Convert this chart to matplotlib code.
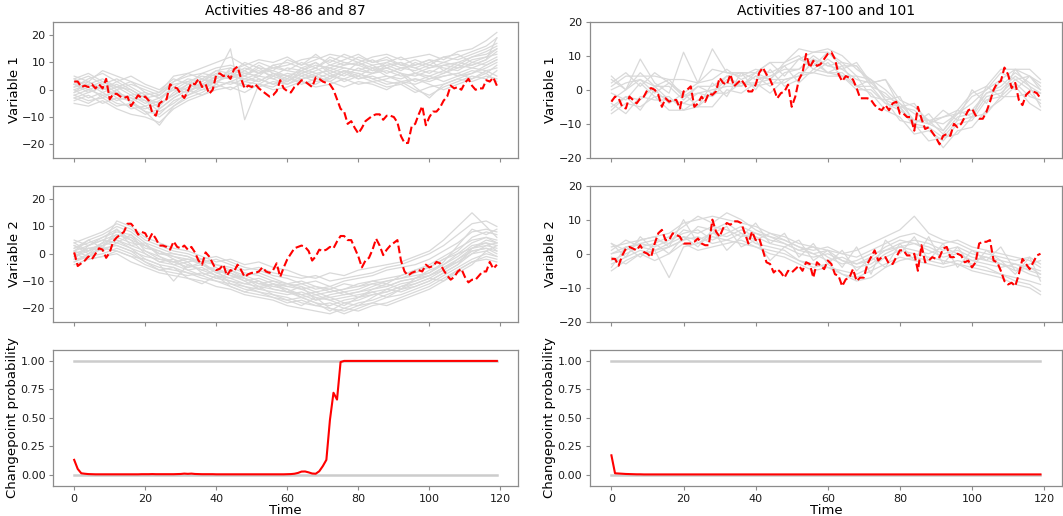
import numpy as np
import matplotlib
matplotlib.use("Agg")
import matplotlib.pyplot as plt

# time axis of the observed activities
time = np.arange(120)
# coarser time grid used for the reference activities (grey)
t_ref = list(range(0, 117, 4)) + [119]

# ---- activities 48-86 (reference set, left column) ----
ref_left_v1 = [
    [3, 5, 2, 4, 1, -2, -1, 3, 5, 6, 8, 9, 7, 10, 8, 9, 11, 12, 10, 13, 11, 9, 10, 8, 9, 11, 10, 12, 14, 16, 19],
    [-2, -4, -3, -6, -5, -8, -9, -4, -2, 0, 1, 3, 2, 1, 3, 2, 4, 5, 3, 6, 4, 5, 3, 2, 4, 3, 5, 6, 4, 7, 5],
    [1, 2, 4, 1, 0, -3, -5, -2, 1, 2, 5, 4, 6, 7, 5, 8, 7, 9, 8, 10, 9, 7, 8, 6, 5, 7, 6, 8, 9, 11, 14],
    [-4, -2, -5, -3, -7, -6, -10, -6, -3, -1, 2, 0, 3, 2, 1, 4, 3, 2, 5, 4, 6, 4, 2, 3, 0, -2, 1, 3, 5, 4, 7],
    [4, 1, 3, 0, 2, 0, -2, 2, 3, 5, 4, 7, 9, 6, 8, 7, 6, 8, 11, 9, 12, 10, 11, 9, 8, 10, 12, 11, 13, 15, 17],
    [0, -3, -1, -4, -2, -5, -3, 0, -1, 3, 6, 5, 4, 3, 6, 4, 8, 6, 7, 5, 8, 6, 7, 5, 6, 4, 6, 9, 8, 10, 12],
    [-1, 3, 0, 2, -1, -4, -6, -1, 2, 4, 3, 6, 5, 8, 4, 6, 5, 7, 9, 8, 7, 9, 6, 8, 7, 9, 8, 7, 10, 9, 11],
    [2, 0, -2, -1, -4, -2, -7, -3, 0, 1, 3, 2, 4, 6, 7, 5, 4, 6, 4, 7, 5, 8, 5, 4, 6, 5, 3, 5, 7, 6, 9],
    [-3, -1, 1, -2, -3, -6, -4, 1, 4, 3, 7, 8, 6, 5, 9, 10, 8, 10, 7, 9, 10, 8, 9, 7, 10, 8, 9, 10, 12, 13, 15],
    [1, 4, 6, 3, 5, 2, 0, 4, 2, 6, 5, 4, 7, 4, 2, 3, 6, 4, 6, 3, 5, 3, 4, 6, 3, 5, 7, 5, 6, 8, 10],
    [-5, -6, -4, -7, -9, -10, -12, -7, -4, -2, 0, 1, -1, 2, 0, 1, 3, 1, 2, 4, 2, 3, 1, 2, -1, 1, 2, 4, 3, 5, 4],
    [5, 3, 7, 5, 3, 1, -1, 5, 6, 8, 10, 12, 9, 11, 10, 12, 9, 11, 13, 12, 10, 12, 13, 11, 12, 13, 11, 14, 15, 18, 21],
    [0, 2, -1, 1, -2, -1, -3, 0, 3, 1, 4, 6, 3, 5, 4, 2, 5, 3, 4, 7, 6, 4, 5, 3, 2, 4, 5, 6, 8, 7, 8],
    [-2, 0, 2, -1, -3, -4, -8, -5, -1, 2, 1, 3, 5, 3, 6, 5, 7, 10, 6, 8, 7, 6, 9, 10, 8, 6, 9, 8, 11, 12, 13],
    [2, -1, 1, -3, -4, -8, -13, -6, -2, 1, 5, 15, -11, 2, 5, 3, 6, 8, 5, 7, 4, 6, 8, 6, 1, -3, 2, 4, 6, 9, 11],
    [-1, 1, -3, 0, -5, -7, -5, -2, 2, 0, 3, 5, 8, 6, 9, 7, 10, 8, 12, 10, 9, 11, 8, 10, 6, 8, 10, 9, 12, 14, 16],
    [4, 6, 3, 1, 3, -1, -3, 1, 0, 4, 7, 6, 10, 8, 7, 11, 9, 13, 9, 11, 13, 10, 12, 9, 11, 9, 12, 13, 10, 12, 15],
    [-3, -5, -2, -5, -6, -9, -7, -3, 0, -2, 1, 3, 1, 4, 2, 5, 2, 4, 3, 1, 3, 2, 0, 3, 4, 2, 0, 2, 4, 6, 3],
    [2, 3, 0, 3, 0, -3, -2, 3, 6, 4, 2, 8, 5, 9, 6, 3, 7, 5, 8, 6, 10, 7, 10, 12, 9, 11, 7, 10, 9, 11, 19],
]
ref_left_v2 = [
    [2, 4, 6, 9, 5, 3, 0, -1, -3, -2, -4, -6, -8, -7, -9, -11, -10, -12, -13, -11, -12, -10, -9, -8, -6, -4, -1, 2, 5, 6, 4],
    [-2, -1, 0, 2, 0, -3, -5, -6, -7, -9, -10, -12, -14, -15, -16, -18, -17, -19, -20, -21, -19, -18, -16, -15, -13, -11, -8, -5, -2, 0, -1],
    [4, 6, 8, 11, 9, 5, 3, 1, 0, -2, -1, -3, -5, -6, -8, -9, -11, -10, -12, -10, -9, -8, -6, -5, -4, -2, 1, 4, 8, 9, 8],
    [0, 2, 1, 4, 2, 0, -3, -4, -6, -5, -8, -9, -11, -10, -13, -14, -15, -17, -16, -18, -17, -15, -14, -12, -11, -9, -6, -2, 1, 2, 0],
    [-3, -1, 3, 5, 3, 1, -2, -3, -2, -4, -6, -7, -9, -11, -12, -13, -15, -14, -16, -15, -14, -13, -12, -10, -9, -6, -4, -1, 3, 4, 3],
    [1, 3, 5, 7, 6, 2, 1, -2, -4, -6, -5, -8, -10, -9, -11, -12, -13, -12, -14, -13, -11, -10, -11, -8, -6, -5, -2, 0, 4, 6, 5],
    [3, 0, 2, 1, -1, -2, -4, -5, -7, -8, -10, -11, -13, -14, -15, -16, -18, -19, -18, -20, -18, -17, -15, -13, -12, -10, -7, -4, 0, 1, -1],
    [-1, 1, 4, 6, 4, 3, 1, -1, -2, -3, -4, -5, -7, -8, -10, -11, -12, -14, -13, -15, -14, -12, -10, -9, -7, -5, -2, 1, 6, 8, 7],
    [0, -2, -1, 0, -3, -5, -7, -8, -9, -10, -12, -13, -15, -16, -17, -19, -20, -21, -22, -20, -21, -19, -18, -16, -14, -12, -9, -6, -3, -2, -3],
    [2, 5, 7, 10, 8, 4, 2, 0, -1, -3, -2, -4, -6, -5, -7, -8, -9, -8, -10, -9, -8, -7, -5, -4, -2, 0, 3, 7, 11, 12, 10],
    [-4, -2, -1, 1, -1, -4, -6, -7, -8, -7, -9, -10, -12, -13, -14, -15, -14, -16, -17, -16, -15, -14, -13, -11, -10, -8, -5, -3, 0, 3, 2],
    [5, 3, 6, 8, 7, 3, 0, 0, -1, -4, -7, -9, -8, -10, -12, -11, -13, -15, -14, -13, -12, -11, -10, -9, -8, -7, -4, 0, 2, 3, 4],
    [1, -1, 2, 3, 1, -1, -2, -3, -5, -4, -6, -8, -9, -11, -10, -12, -11, -13, -12, -14, -13, -11, -12, -10, -9, -8, -5, -2, 2, 4, 1],
    [-1, 2, 3, 5, 2, -2, -4, -10, -4, -6, -8, -10, -11, -12, -13, -14, -16, -18, -19, -17, -16, -15, -14, -12, -10, -8, -6, -3, 1, 2, 1],
    [3, 1, 4, 12, 10, 6, 4, 2, 1, -1, -3, -2, -4, -3, -5, -6, -8, -9, -7, -8, -6, -5, -4, -3, -1, 1, 5, 10, 15, 10, 6],
    [-2, 3, 5, 4, 7, 1, -1, -3, -5, -3, -7, -6, -9, -12, -11, -13, -16, -15, -17, -19, -16, -14, -16, -13, -11, -9, -10, -6, -3, -1, -2],
    [4, 1, 3, 7, 5, 0, -3, -2, -6, -8, -6, -11, -12, -14, -16, -17, -19, -16, -20, -22, -20, -18, -19, -17, -15, -13, -10, -7, -4, 1, 3],
    [1, 5, 2, 9, 3, 4, -1, -4, -3, -7, -9, -7, -10, -13, -11, -14, -12, -17, -15, -14, -16, -13, -11, -13, -9, -7, -3, 3, 9, 7, 9],
    [-3, 0, 4, 3, 1, -3, -6, -5, -9, -11, -8, -12, -14, -12, -15, -17, -16, -18, -21, -18, -19, -16, -13, -14, -12, -10, -7, -4, 2, 5, 4],
]

# ---- activity 87 (observed, left column) ----
obs_left_v1 = [3, 3, 1, 1.5, 1, 2, 0.5, 2, 0.5, 4, -3.5, -1.5, -1.5, -2.5, -3, -2.5, -6, -4, -2, -3,
               -2.5, -4, -8.5, -9.5, -5, -4, -3.5, 2, 1, 0.5, -1.5, -3, -0.5, 2.5, 2, 4, 1, 2, -1.5, 0,
               5.5, 6, 5, 5.5, 4, 7.5, 8.5, 4, 0.5, 1.5, 1, 2, 0.5, -0.5, -1.5, -2.5, -2, -0.5, 3.5, 0.5,
               -0.5, -1, 1, 2, 3.5, 3, 2, 1, 4.5, 4, 3, 2.5, 2, 0, -3.5, -7, -8, -12.5, -11.5, -14,
               -16, -14, -11.5, -10.5, -9.5, -9, -9, -11, -9.5, -9.5, -10, -12, -17, -19.5, -19.5, -13.5, -12.5, -9, -6, -13,
               -10, -8, -8, -6.5, -4, -2.5, 1.5, 0.5, 1, 0, 2.5, 4, 1.5, 0, 0.5, 0.5, 3.5, 3, 4.5, 1.5]
obs_left_v2 = [0.5, -4.5, -3.5, -2.5, -1, -2, 0, 2, 1.5, -1.5, 0.5, 4.5, 6, 7, 8, 11, 11, 9.5, 7, 8,
               7.5, 5, 7.5, 5.5, 3, 3, 2.5, 1.5, 4.5, 2.5, 2, 3, 1.5, 2.5, 0.5, -2.5, -4, 0.5, -1, -3.5,
               -6, -5.5, -4, -8, -6, -6.5, -4, -6, -8.5, -7.5, -7, -7, -6.5, -5, -6.5, -7, -6, -3.5, -8.5, -5,
               -2, 0, 2, 2.5, 3, 2.5, 1, -2.5, -1, 1.5, 1, 1.5, 2.5, 2, 4.5, 6.5, 6.5, 5, 5, 2,
               -1, -5, -2.5, -1.5, 1.5, 5.5, 3, -0.5, 1.5, 3, 4, 5, -2.5, -6.5, -8, -7, -6.5, -6, -6.5, -4,
               -5, -4.5, -3, -3.5, -6, -8, -9.5, -8.5, -6.5, -5.5, -8.5, -10.5, -9.5, -9.5, -8, -6.5, -6.5, -3, -5.5, -4]
prob_left = [0.13, 0.05, 0.012, 0.008, 0.005, 0.004, 0.003, 0.003, 0.003, 0.003,
             0.003, 0.003, 0.003, 0.003, 0.003, 0.003, 0.003, 0.003, 0.003, 0.004,
             0.004, 0.004, 0.005, 0.004, 0.004, 0.004, 0.004, 0.004, 0.004, 0.005,
             0.006, 0.009, 0.007, 0.009, 0.006, 0.005, 0.004, 0.004, 0.004, 0.004,
             0.003, 0.003, 0.003, 0.003, 0.003, 0.003, 0.003, 0.003, 0.003, 0.003,
             0.003, 0.003, 0.003, 0.003, 0.003, 0.003, 0.003, 0.003, 0.003, 0.003,
             0.004, 0.005, 0.008, 0.015, 0.027, 0.028, 0.02, 0.01, 0.008, 0.03,
             0.075, 0.13, 0.48, 0.72, 0.66, 0.99, 1.0, 1.0, 1.0, 1.0,
             1.0, 1.0, 1.0, 1.0, 1.0, 1.0, 1.0, 1.0, 1.0, 1.0,
             1.0, 1.0, 1.0, 1.0, 1.0, 1.0, 1.0, 1.0, 1.0, 1.0,
             1.0, 1.0, 1.0, 1.0, 1.0, 1.0, 1.0, 1.0, 1.0, 1.0,
             1.0, 1.0, 1.0, 1.0, 1.0, 1.0, 1.0, 1.0, 1.0, 1.0]

# ---- activities 87-100 (reference set, right column) ----
ref_right_v1 = [
    [2, 5, 1, 5, 2, -1, 2, 3, 6, 3, 5, 8, 4, 9, 7, 11, 8, 7, 2, 3, -3, -5, -9, -8, -7, -2, 0, 5, 3, 4, 1],
    [-5, -2, -3, 1, -3, -4, -1, -2, 2, 1, 4, 1, 5, 6, 9, 7, 8, 4, 3, -3, -5, -10, -11, -14, -9, -8, -2, -1, 3, 0, -1],
    [0, 2, 3, 1, 1, -3, 1, 1, 4, 5, 3, 4, 6, 6, 10, 7, 6, 3, 2, -2, -4, -9, -9, -13, -8, -7, -1, 1, 5, 2, 0],
    [-7, -4, -5, -2, -6, -6, -5, -1, -1, 2, 1, 2, 2, 5, 5, 8, 4, 4, -2, -3, -9, -10, -15, -14, -13, -8, -7, -2, -2, -1, -4],
    [-3, 0, 9, 2, -1, 11, 2, 12, 5, 4, 6, 5, 7, 9, 11, 12, 10, 6, 3, 0, -4, -7, -9, -10, -7, -4, 0, 3, 6, 4, 2],
    [-1, -3, 2, -2, -2, -6, -3, -1, 3, 2, 2, 3, 3, 4, 8, 5, 5, 1, -1, -6, -8, -13, -12, -15, -10, -9, -3, -2, 2, -2, -3],
    [3, 0, 3, -1, 2, -2, -1, 0, 1, 1, 4, 3, 7, 2, 6, 5, 4, 0, 0, -4, -6, -9, -10, -12, -7, -6, -1, 0, 4, 1, -1],
    [-4, -7, -2, -3, -3, -4, -5, -5, 0, -1, 2, -1, 3, 4, 5, 4, 4, 1, 1, -4, -5, -11, -11, -17, -12, -11, -6, -3, 1, -4, -6],
    [1, 4, 4, 4, 3, 3, 2, 6, 5, 5, 5, 8, 8, 12, 11, 11, 7, 7, 1, -1, -5, -6, -10, -8, -6, -1, 1, 6, 6, 6, 3],
    [4, 0, 5, 1, 3, -2, 1, -1, 4, 1, 5, 3, 8, 10, 6, 9, 6, 8, 2, 3, -5, -4, -10, -6, -9, 0, -4, 3, 0, 4, 0],
    [-6, -2, -6, 0, -4, -1, -5, 2, -2, 5, 0, 6, 1, 3, 9, 5, 7, 1, 3, -3, -2, -10, -7, -12, -6, -8, 1, -2, 6, 1, -5],
]
ref_right_v2 = [
    [2, 3, 4, 5, 6, 9, 10, 11, 10, 9, 8, 6, 5, 3, 2, 1, 0, -1, 1, 3, 5, 6, 4, 3, 4, 2, 1, 0, -1, -2, -4],
    [-3, -1, 1, 0, 2, 4, 5, 3, 4, 6, 3, 2, 1, -2, -3, -4, -5, -6, -4, -1, 1, 0, -1, -2, -3, -4, -5, -6, -8, -9, -11],
    [0, 2, 3, 4, 3, 7, 6, 8, 7, 5, 6, 4, 3, 1, 0, -2, -1, -3, -2, 1, 3, 4, 3, 1, 2, 0, -1, -2, -3, -4, -5],
    [-5, -2, 0, 1, -7, 2, 3, 5, 4, 3, 2, 1, 0, -2, -4, -3, -6, -7, -5, -3, -1, -2, -3, -4, -3, -5, -6, -7, -9, -10, -12],
    [1, 4, 2, 3, 5, 8, 11, 9, 12, 10, 7, 5, 4, 2, 1, 2, 0, 1, 3, 5, 7, 11, 6, 4, 3, 1, 0, -1, -2, -1, -3],
    [-2, 0, 2, 1, 3, 5, 4, 6, 5, 7, 5, 3, 2, 0, -1, 0, -2, -3, -1, 2, 4, 3, 2, 0, 1, -1, -2, -3, -4, -6, -7],
    [3, 1, 3, 2, 4, 6, 7, 4, 6, 8, 6, 5, 3, 1, 2, -1, -3, -2, 0, 1, 2, 1, 0, 2, 0, -2, -3, -4, -3, -5, -6],
    [-1, -3, 0, -2, 0, 3, 1, 2, 3, 4, 2, 0, -1, -3, -5, -4, -6, -8, -7, -4, -2, -1, -2, -3, -2, -3, -4, -6, -7, -8, -9],
    [0, 1, 4, 5, 2, 4, 8, 7, 9, 6, 4, 6, 4, 2, 0, 1, -2, -4, -3, 0, 2, 3, 1, -1, 0, -2, -1, -3, -5, -4, -6],
    [-4, 2, -1, 3, 0, 5, 2, 7, 1, 5, 9, 3, 6, -1, 3, -3, 1, -5, -1, -4, 3, -2, 5, -3, 2, -4, 1, -2, -6, -1, -8],
    [3, -1, 5, 1, 2, 10, 3, 6, 8, 2, 4, -2, 2, 4, -2, 1, -4, 2, -6, 4, 0, 5, -2, 3, -4, 1, -2, 2, -5, -3, -2],
]

# ---- activity 101 (observed, right column) ----
obs_right_v1 = [-3.5, -2, -2.5, -5, -5.5, -2, -3, -4, -2.5, -2, 0, 0.5, 0, -1.5, -5, -2.5, -3.5, -3, -3, -5.5,
                -0.5, 0, 1, -5, -4, -2, -3.5, -1, -1.5, -0.5, 3.5, 2, 1.5, 4.5, 1, 2, 3, 1.5, -0.5, -0.5,
                1.5, 5, 6.5, 4.5, 3, 0.5, -2.5, -1, -0.5, 1.5, -5, -2, 3, 5, 10.5, 6.5, 8.5, 7, 7.5, 9,
                10.5, 11, 9, 4.5, 2.5, 4, 3.5, 3, 0.5, -2.5, -2.5, -2.5, -3, -4.5, -5.5, -6, -4.5, -6, -4, -3.5,
                -7, -7, -8, -8, -12, -5, -8.5, -11.5, -11, -12.5, -14, -16, -13.5, -13, -13.5, -10, -11, -10, -8, -6,
                -5.5, -7.5, -8.5, -8.5, -6.5, -3.5, 0, 2, 2.5, 6.5, 4.5, 0.5, 2, -3, -4.5, -1.5, -0.5, -0.5, -1, -2.5]
obs_right_v2 = [-1.5, -1.5, -3.5, -0.5, 1.5, 2, 1.5, 1, 2.5, 0.5, 0, -1, 3, 6, 7, 4, 4, 6, 5.5, 5,
                3, 3, 3, 3.5, 4.5, 3, 2.5, 2.5, 10, 6.5, 5, 7.5, 9, 8.5, 9.5, 9.5, 9, 6, 3, 6.5,
                4, 4.5, 1, -2.5, -3, -5.5, -4.5, -5.5, -7, -5, -5.5, -4.5, -3.5, -5, -2.5, -3, -7, -2.5, -3.5, -4.5,
                -2, -3, -6, -6.5, -9.5, -7.5, -7, -4.5, -8, -7, -7, -3, -1, 1, -2, -1, -1, -3, -3, -1,
                1, 1, -0.5, -0.5, 0, -5, 2.5, -2.5, -2, -1, -1.5, -1, 1.5, 2, -1, -1, 0, -0.5, -2.5, -2,
                -4, -2.5, 3, 3.5, 3.5, 4, -2, -2.5, -5, -8, -9, -8.5, -9.5, -6, -1.5, -3, -4.5, -2.5, -0.5, 0]
prob_right = [0.17, 0.012, 0.01, 0.008, 0.006, 0.005, 0.004, 0.003, 0.003, 0.002] + [0.002] * 110

titles = ["Activities 48-86 and 87", "Activities 87-100 and 101"]

GREY = "#d9d9d9"
SPINE = "#8c8c8c"

plt.rcParams["font.family"] = "DejaVu Sans"
fig = plt.figure(figsize=(10.63, 5.16), dpi=100)

col_x = [0.0499, 0.555]
col_w = [0.4374, 0.444]
row_y = [0.6938, 0.376, 0.0581]
row_h = 0.2645


def style(ax):
    for s in ax.spines.values():
        s.set_color(SPINE)
        s.set_linewidth(0.9)
    ax.tick_params(colors=SPINE, labelcolor="#1a1a1a", labelsize=8, length=3, width=0.8, pad=2.5)
    ax.set_xlim(-5.95, 124.95)
    ax.set_xticks([0, 20, 40, 60, 80, 100, 120])


columns = [
    (ref_left_v1, ref_left_v2, obs_left_v1, obs_left_v2, prob_left, (-25, 25)),
    (ref_right_v1, ref_right_v2, obs_right_v1, obs_right_v2, prob_right, (-20, 20)),
]

for c, (rv1, rv2, ov1, ov2, prob, ylim) in enumerate(columns):
    for r, (refs, obs, name) in enumerate([(rv1, ov1, "Variable 1"), (rv2, ov2, "Variable 2")]):
        ax = fig.add_axes([col_x[c], row_y[r], col_w[c], row_h])
        for line in refs:
            ax.plot(t_ref, line, color=GREY, lw=0.9)
        ax.plot(time, obs, color="red", ls="--", lw=1.5)
        ax.set_ylim(*ylim)
        ax.set_yticks([-20, -10, 0, 10, 20])
        ax.set_ylabel(name, fontsize=9.5, labelpad=1)
        style(ax)
        ax.tick_params(axis="x", labelbottom=False)
        if r == 0:
            ax.set_title(titles[c], fontsize=10, pad=5)

    ax = fig.add_axes([col_x[c], row_y[2], col_w[c], row_h])
    ax.plot(time, np.zeros(len(time)), color="#cccccc", lw=1.8)
    ax.plot(time, np.ones(len(time)), color="#cccccc", lw=1.8)
    ax.plot(time, prob, color="red", lw=1.5)
    ax.set_ylim(-0.1, 1.1)
    ax.set_yticks([0, 0.25, 0.5, 0.75, 1.0])
    ax.set_yticklabels(["0.00", "0.25", "0.50", "0.75", "1.00"])
    ax.set_ylabel("Changepoint probability", fontsize=9.5, labelpad=1)
    ax.set_xlabel("Time", fontsize=9.5, labelpad=0)
    style(ax)

fig.savefig("out.png", dpi=100)
